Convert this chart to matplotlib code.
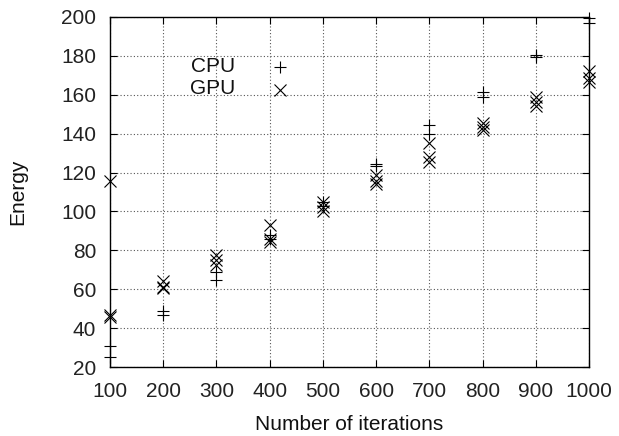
import matplotlib
matplotlib.use("Agg")
import matplotlib.pyplot as plt

plt.rcParams['font.family'] = ['Liberation Sans', 'DejaVu Sans']

iterations = [100, 200, 300, 400, 500, 600, 700, 800, 900, 1000]
cpu_energy = [
    [31, 25],
    [49, 47],
    [69, 65],
    [88, 86],
    [105, 103],
    [124.5, 123.5],
    [144.5, 140],
    [161.5, 159],
    [180.5, 179.5],
    [199.5, 197],
]
gpu_energy = [
    [115.5, 47, 45.5],
    [64, 61, 60.5],
    [77.5, 75, 72.5],
    [93, 86, 84.5],
    [105, 102.5, 100],
    [118.5, 115.5, 114],
    [135, 128, 125.5],
    [145.5, 143.5, 142],
    [159, 156.5, 154],
    [172, 168.5, 166.5],
]
x_ticks = [100, 200, 300, 400, 500, 600, 700, 800, 900, 1000]
y_ticks = [20, 40, 60, 80, 100, 120, 140, 160, 180, 200]

FS = 15

fig = plt.figure(figsize=(6.19, 4.36), dpi=100)
ax = fig.add_axes([110/619, 1-367/436, 479/619, 350/436])

cx, cy = [], []
for xv, vals in zip(iterations, cpu_energy):
    for v in vals:
        cx.append(xv); cy.append(v)
gx, gy = [], []
for xv, vals in zip(iterations, gpu_energy):
    for v in vals:
        gx.append(xv); gy.append(v)

ax.plot(cx, cy, linestyle='none', marker='+', ms=9, mew=0.8, color='black', clip_on=False, zorder=3)
ax.plot(gx, gy, linestyle='none', marker='x', ms=9, mew=0.8, color='black', clip_on=False, zorder=3)

ax.set_xlim(100, 1000)
ax.set_ylim(20, 200)
ax.set_xticks(x_ticks)
ax.set_yticks(y_ticks)
ax.grid(True, linestyle=(0, (1, 2)), color='#555555', linewidth=0.8)
ax.tick_params(direction='in', length=5, width=0.8, top=True, right=True, labelsize=FS, colors='black')
ax.tick_params(axis='x', pad=11)
ax.tick_params(axis='y', pad=10)
for lab in ax.get_xticklabels() + ax.get_yticklabels():
    lab.set_color('#222222')
for s in ax.spines.values():
    s.set_linewidth(1.0)
    s.set_color('black')

ax.set_xlabel('Number of iterations', fontsize=FS, color='#111111')
ax.xaxis.set_label_coords(0.5, (367 - 424) / 350)
ax.xaxis.label.set_va('center')
ax.set_ylabel('Energy', fontsize=FS, color='#111111')
ax.yaxis.set_label_coords((18 - 110) / 479, 0.5)
ax.yaxis.label.set_va('center')

# gnuplot-style key
ax.text((235 - 110) / 479, (367 - 66.5) / 350, 'CPU', transform=ax.transAxes,
        ha='right', va='center', fontsize=FS, color='#111111')
ax.text((235 - 110) / 479, (367 - 88.5) / 350, 'GPU', transform=ax.transAxes,
        ha='right', va='center', fontsize=FS, color='#111111')
ax.plot([(280 - 110) / 479], [(367 - 66.7) / 350], transform=ax.transAxes, marker='+', ms=9, mew=0.8,
        color='black', linestyle='none')
ax.plot([(280 - 110) / 479], [(367 - 90) / 350], transform=ax.transAxes, marker='x', ms=9, mew=0.8,
        color='black', linestyle='none')

fig.savefig('out.png', dpi=100)
